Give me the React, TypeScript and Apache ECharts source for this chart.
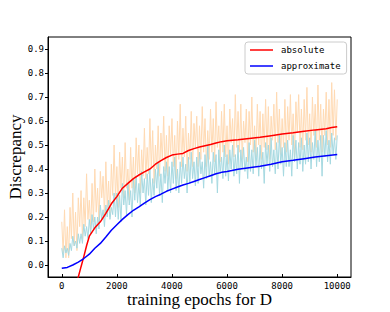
import React, { useEffect, useRef } from "react";
import * as echarts from "echarts";

// raw (noisy) curves sampled every 50 epochs
const rawStep = 50;
const absoluteRaw = [
  0.18, 0.05, 0.23, 0.03, 0.16, 0.03, 0.24, 0.11, 0.30, 0.08,
  0.22, 0.06, 0.28, 0.16, 0.31, 0.11, 0.28, 0.16, 0.38, 0.19,
  0.27, 0.15, 0.34, 0.18, 0.40, 0.22, 0.32, 0.17, 0.39, 0.28,
  0.37, 0.21, 0.43, 0.24, 0.35, 0.20, 0.42, 0.29, 0.50, 0.28,
  0.41, 0.24, 0.47, 0.32, 0.45, 0.28, 0.51, 0.32, 0.40, 0.27,
  0.49, 0.32, 0.45, 0.30, 0.53, 0.38, 0.50, 0.30, 0.48, 0.37,
  0.57, 0.36, 0.49, 0.38, 0.61, 0.40, 0.56, 0.34, 0.50, 0.40,
  0.58, 0.37, 0.55, 0.44, 0.62, 0.39, 0.54, 0.37, 0.58, 0.46,
  0.61, 0.41, 0.54, 0.36, 0.60, 0.44, 0.67, 0.41, 0.57, 0.45,
  0.62, 0.39, 0.55, 0.44, 0.64, 0.41, 0.59, 0.49, 0.62, 0.41,
  0.58, 0.44, 0.66, 0.47, 0.61, 0.41, 0.56, 0.44, 0.65, 0.47,
  0.61, 0.43, 0.68, 0.49, 0.58, 0.43, 0.64, 0.47, 0.67, 0.45,
  0.58, 0.42, 0.65, 0.51, 0.61, 0.45, 0.71, 0.49, 0.64, 0.47,
  0.67, 0.44, 0.60, 0.51, 0.65, 0.43, 0.64, 0.50, 0.70, 0.47,
  0.58, 0.45, 0.67, 0.50, 0.64, 0.44, 0.63, 0.49, 0.69, 0.48,
  0.66, 0.44, 0.62, 0.52, 0.67, 0.48, 0.72, 0.51, 0.65, 0.46,
  0.61, 0.49, 0.69, 0.47, 0.66, 0.52, 0.71, 0.50, 0.63, 0.45,
  0.68, 0.55, 0.71, 0.49, 0.65, 0.48, 0.69, 0.52, 0.74, 0.50,
  0.63, 0.47, 0.70, 0.54, 0.67, 0.49, 0.75, 0.52, 0.67, 0.47,
  0.65, 0.54, 0.72, 0.50, 0.69, 0.49, 0.76, 0.54, 0.73, 0.52,
  0.69,
];
const approximateRaw = [
  0.07, 0.03, 0.08, 0.05, 0.07, 0.04, 0.09, 0.06, 0.12, 0.08,
  0.10, 0.07, 0.13, 0.09, 0.13, 0.09, 0.17, 0.12, 0.16, 0.11,
  0.19, 0.13, 0.21, 0.15, 0.20, 0.13, 0.20, 0.15, 0.25, 0.19,
  0.23, 0.16, 0.25, 0.20, 0.27, 0.19, 0.24, 0.21, 0.30, 0.20,
  0.30, 0.19, 0.29, 0.18, 0.34, 0.25, 0.31, 0.21, 0.34, 0.25,
  0.31, 0.20, 0.36, 0.27, 0.37, 0.26, 0.34, 0.25, 0.39, 0.30,
  0.36, 0.25, 0.38, 0.29, 0.40, 0.26, 0.36, 0.29, 0.40, 0.32,
  0.43, 0.29, 0.38, 0.26, 0.41, 0.34, 0.43, 0.31, 0.41, 0.30,
  0.43, 0.34, 0.45, 0.31, 0.40, 0.30, 0.43, 0.34, 0.45, 0.36,
  0.42, 0.30, 0.45, 0.34, 0.47, 0.36, 0.43, 0.33, 0.45, 0.34,
  0.47, 0.38, 0.43, 0.32, 0.46, 0.36, 0.50, 0.37, 0.43, 0.34,
  0.47, 0.38, 0.46, 0.30, 0.48, 0.38, 0.45, 0.36, 0.50, 0.37,
  0.46, 0.35, 0.48, 0.40, 0.50, 0.37, 0.46, 0.38, 0.50, 0.34,
  0.48, 0.40, 0.49, 0.39, 0.45, 0.36, 0.51, 0.39, 0.48, 0.38,
  0.52, 0.41, 0.49, 0.37, 0.50, 0.40, 0.47, 0.34, 0.51, 0.42,
  0.50, 0.39, 0.53, 0.41, 0.48, 0.38, 0.51, 0.40, 0.54, 0.42,
  0.49, 0.37, 0.51, 0.41, 0.52, 0.41, 0.48, 0.37, 0.54, 0.43,
  0.52, 0.40, 0.51, 0.42, 0.53, 0.39, 0.50, 0.42, 0.55, 0.43,
  0.53, 0.40, 0.51, 0.44, 0.56, 0.41, 0.52, 0.43, 0.54, 0.37,
  0.54, 0.45, 0.56, 0.43, 0.52, 0.42, 0.55, 0.46, 0.53, 0.44,
  0.54,
];

// smoothed curves
const absoluteEpochs = [
  500, 600, 700, 800, 900, 1000, 1200, 1400, 1600, 1800, 2000, 2200, 2400, 2600,
  2800, 3000, 3200, 3400, 3600, 3800, 4000, 4200, 4400, 4600, 4800, 5000, 5200,
  5400, 5600, 5800, 6000, 6400, 6800, 7200, 7600, 8000, 8400, 8800, 9200, 9600,
  9800, 10000,
];
const absoluteSmooth = [
  -0.085, -0.05, -0.007, 0.035, 0.08, 0.12, 0.155, 0.18, 0.215, 0.255, 0.285,
  0.32, 0.34, 0.36, 0.375, 0.388, 0.4, 0.42, 0.435, 0.448, 0.458, 0.462, 0.465,
  0.477, 0.485, 0.492, 0.497, 0.502, 0.508, 0.514, 0.518, 0.522, 0.527, 0.532,
  0.539, 0.546, 0.551, 0.557, 0.563, 0.568, 0.573, 0.576,
];
const approximateEpochs = [
  0, 200, 400, 600, 800, 1000, 1200, 1400, 1600, 1800, 2000, 2200, 2400, 2600,
  2800, 3000, 3200, 3400, 3600, 3800, 4000, 4200, 4400, 4600, 4800, 5000, 5200,
  5400, 5600, 5800, 6000, 6400, 6800, 7200, 7600, 8000, 8400, 8800, 9200, 9600,
  10000,
];
const approximateSmooth = [
  -0.014, -0.01, 0.0, 0.012, 0.027, 0.045, 0.07, 0.09, 0.117, 0.145, 0.168,
  0.19, 0.21, 0.228, 0.242, 0.258, 0.272, 0.285, 0.295, 0.307, 0.316, 0.325,
  0.333, 0.34, 0.348, 0.356, 0.364, 0.372, 0.38, 0.386, 0.39, 0.399, 0.405,
  0.411, 0.42, 0.43, 0.436, 0.443, 0.45, 0.455, 0.46,
];

const xTicks = [0, 2000, 4000, 6000, 8000, 10000];
const yTicks = [0, 0.1, 0.2, 0.3, 0.4, 0.5, 0.6, 0.7, 0.8, 0.9];

const pairs = (xs: number[], ys: number[]) => ys.map((y, i) => [xs[i], y]);
const rawPairs = (ys: number[]) => ys.map((y, i) => [i * rawStep, y]);

export default function App() {
  const ref = useRef<HTMLDivElement>(null);
  useEffect(() => {
    document.body.style.margin = "0";
    const chart = echarts.init(ref.current!, null, { renderer: "svg" });
    const mono = "DejaVu Sans Mono";
    chart.setOption({
      animation: false,
      backgroundColor: "#fff",
      grid: {
        left: 48,
        right: 39,
        top: 37,
        bottom: 35,
        containLabel: false,
        outerBoundsMode: "none",
        show: true,
        borderColor: "#000",
        borderWidth: 1,
        backgroundColor: "transparent",
      },
      legend: {
        data: ["absolute", "approximate"],
        orient: "vertical",
        left: 245,
        top: 42,
        padding: [3, 6, 3, 5],
        icon: "rect",
        itemWidth: 23,
        itemHeight: 1.5,
        itemGap: 6,
        borderColor: "#cccccc",
        borderWidth: 1,
        borderRadius: 3,
        backgroundColor: "#fff",
        textStyle: {
          fontFamily: mono,
          fontSize: 9,
          lineHeight: 10,
          color: "#000",
          padding: [0, 0, 0, 3],
        },
      },
      xAxis: {
        type: "value",
        min: -500,
        max: 10500,
        name: "training epochs for D",
        nameLocation: "middle",
        nameGap: 14,
        nameMoveOverlap: false,
        nameTextStyle: {
          fontFamily: "Liberation Serif",
          fontSize: 17,
          color: "#000",
        },
        axisLine: { show: true, onZero: false, lineStyle: { color: "#000", width: 1 } },
        axisTick: {
          show: true,
          inside: true,
          length: 3,
          customValues: xTicks,
          lineStyle: { color: "#000" },
        },
        axisLabel: {
          customValues: xTicks,
          fontFamily: mono,
          fontSize: 9,
          color: "#000",
          margin: 4,
          formatter: (v: number) => String(v),
        },
        splitLine: { show: false },
      },
      yAxis: {
        type: "value",
        min: -0.05,
        max: 0.95,
        name: "Discrepancy",
        nameLocation: "middle",
        nameRotate: 90,
        nameGap: 24,
        nameMoveOverlap: false,
        nameTextStyle: {
          fontFamily: "Liberation Serif",
          fontSize: 17,
          color: "#000",
        },
        axisLine: { show: true, onZero: false, lineStyle: { color: "#000", width: 1 } },
        axisTick: {
          show: true,
          inside: false,
          length: 3,
          customValues: yTicks,
          lineStyle: { color: "#000" },
        },
        axisLabel: {
          customValues: yTicks,
          fontFamily: mono,
          fontSize: 9,
          color: "#000",
          margin: 4,
          formatter: (v: number) => v.toFixed(1),
        },
        splitLine: { show: false },
      },
      series: [
        {
          name: "absolute raw",
          type: "line",
          data: rawPairs(absoluteRaw),
          symbol: "none",
          lineStyle: { color: "#ffdab3", width: 1 },
          itemStyle: { color: "#ffdab3" },
          z: 1,
        },
        {
          name: "approximate raw",
          type: "line",
          data: rawPairs(approximateRaw),
          symbol: "none",
          lineStyle: { color: "#a6d9e1", width: 1 },
          itemStyle: { color: "#a6d9e1" },
          z: 2,
        },
        {
          name: "absolute",
          type: "line",
          data: pairs(absoluteEpochs, absoluteSmooth),
          symbol: "none",
          lineStyle: { color: "#ff0000", width: 1.5 },
          itemStyle: { color: "#ff0000" },
          z: 3,
        },
        {
          name: "approximate",
          type: "line",
          data: pairs(approximateEpochs, approximateSmooth),
          symbol: "none",
          lineStyle: { color: "#0000ff", width: 1.5 },
          itemStyle: { color: "#0000ff" },
          z: 3,
        },
      ],
    });
    return () => chart.dispose();
  }, []);
  return <div ref={ref} style={{ width: 390, height: 312 }} />;
}
